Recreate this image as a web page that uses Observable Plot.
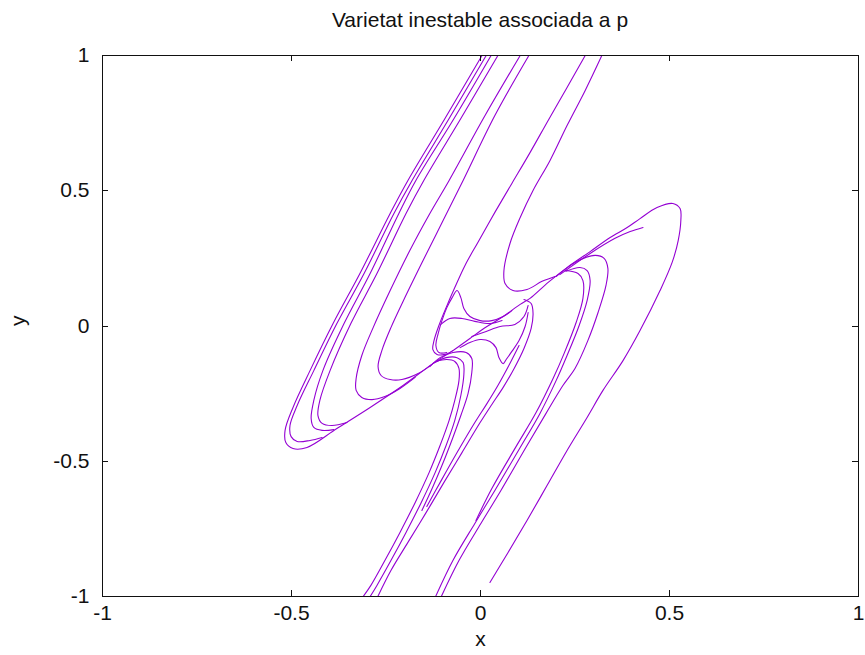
<!DOCTYPE html>
<html>
<head>
<meta charset="utf-8">
<script src="https://cdn.jsdelivr.net/npm/d3@7"></script>
<script src="https://cdn.jsdelivr.net/npm/@observablehq/plot@0.6"></script>
<style>
  html, body { margin: 0; padding: 0; background: #fff; }
  #wrap { position: relative; width: 865px; height: 655px; font-family: "Liberation Sans", Arial, sans-serif; }
  #title { position: absolute; left: 102px; width: 756px; top: 0; height: 40px; box-sizing: border-box;
           padding-top: 8px; text-align: center; font-size: 21px; line-height: 24px; color: #111; }
  #chart { position: absolute; left: 0; top: 40px; }
</style>
</head>
<body>
<div id="wrap">
  <div id="title">Varietat inestable associada a p</div>
  <div id="chart"></div>
</div>
<script>
// Axis ticks and their printed labels
const xTicks = [-1, -0.5, 0, 0.5, 1];
const yTicks = [-1, -0.5, 0, 0.5, 1];
const tickLabels = ["-1", "-0.5", "0", "0.5", "1"];

// Branches of the unstable manifold, as [x, y] samples along each strand
const mainBranch = [[0.004,1],[-0.094,0.767],[-0.192,0.538],[-0.239,0.416],[-0.319,0.194],[-0.390,0.009],[-0.451,-0.165],[-0.496,-0.301],[-0.517,-0.386],[-0.515,-0.431],[-0.496,-0.453],[-0.459,-0.449],[-0.380,-0.379],[-0.292,-0.301],[-0.205,-0.220],[-0.126,-0.139],[-0.073,-0.091],[-0.028,-0.046],[0.017,-0.002],[0.060,0.035],[0.105,0.080],[0.131,0.102],[0.179,0.161],[0.229,0.216],[0.290,0.275],[0.343,0.327],[0.388,0.364],[0.422,0.397],[0.467,0.438],[0.509,0.453],[0.528,0.434],[0.530,0.390],[0.523,0.316],[0.507,0.235],[0.475,0.131],[0.422,-0.017],[0.377,-0.128],[0.324,-0.238],[0.282,-0.338],[0.229,-0.460],[0.176,-0.590],[0.123,-0.719],[0.073,-0.837],[0.025,-0.948]];
const leftFold2 = [[0.015,1],[-0.083,0.767],[-0.181,0.538],[-0.229,0.416],[-0.308,0.194],[-0.380,0.009],[-0.441,-0.165],[-0.485,-0.294],[-0.504,-0.368],[-0.501,-0.409],[-0.485,-0.427],[-0.451,-0.423],[-0.419,-0.412]];
const leftFold3 = [[0.028,1],[-0.070,0.767],[-0.171,0.538],[-0.216,0.416],[-0.292,0.194],[-0.361,0.009],[-0.417,-0.165],[-0.441,-0.275],[-0.448,-0.342],[-0.441,-0.375],[-0.419,-0.386],[-0.388,-0.383]];
const leftFold4 = [[0.046,1],[-0.052,0.767],[-0.150,0.538],[-0.197,0.416],[-0.274,0.194],[-0.343,0.009],[-0.398,-0.165],[-0.425,-0.275],[-0.430,-0.331],[-0.419,-0.360],[-0.393,-0.368],[-0.353,-0.357]];
const leftLoopA = [[0.105,1],[0.012,0.778],[-0.083,0.538],[-0.134,0.416],[-0.187,0.279],[-0.239,0.131],[-0.284,-0.006],[-0.314,-0.109],[-0.329,-0.194],[-0.329,-0.238],[-0.314,-0.264],[-0.287,-0.272],[-0.253,-0.261],[-0.213,-0.231],[-0.173,-0.190]];
const leftLoopB = [[0.128,1],[0.038,0.778],[-0.046,0.538],[-0.099,0.390],[-0.152,0.242],[-0.200,0.105],[-0.237,-0.006],[-0.261,-0.091],[-0.271,-0.150],[-0.263,-0.183],[-0.239,-0.198],[-0.208,-0.198],[-0.165,-0.176],[-0.128,-0.142]];
const eyeUpper = [[0.277,1],[0.229,0.882],[0.179,0.760],[0.131,0.641],[0.083,0.527],[0.038,0.420],[-0.007,0.309],[-0.041,0.224],[-0.068,0.142],[-0.091,0.068],[-0.110,0.002],[-0.123,-0.054],[-0.126,-0.087],[-0.115,-0.105],[-0.094,-0.105],[-0.073,-0.091]];
const topHook = [[0.321,1],[0.277,0.871],[0.229,0.741],[0.184,0.612],[0.139,0.501],[0.105,0.401],[0.078,0.305],[0.062,0.205],[0.065,0.157],[0.086,0.131],[0.123,0.135],[0.163,0.165],[0.197,0.183]];
const lowHook1 = [[-0.134,-0.150],[-0.107,-0.117],[-0.073,-0.098],[-0.038,-0.098],[-0.023,-0.120],[-0.023,-0.172],[-0.033,-0.250],[-0.052,-0.331],[-0.073,-0.412],[-0.102,-0.516],[-0.128,-0.601],[-0.155,-0.682]];
const lowHook2 = [[-0.126,-0.139],[-0.091,-0.117],[-0.062,-0.117],[-0.046,-0.135],[-0.044,-0.179],[-0.052,-0.257],[-0.068,-0.349],[-0.091,-0.442],[-0.120,-0.542],[-0.157,-0.653],[-0.197,-0.763],[-0.237,-0.867],[-0.274,-0.959],[-0.295,-1.007]];
const lowHook3 = [[-0.118,-0.131],[-0.089,-0.124],[-0.068,-0.131],[-0.057,-0.157],[-0.057,-0.202],[-0.068,-0.275],[-0.083,-0.349],[-0.107,-0.442],[-0.136,-0.542],[-0.173,-0.653],[-0.213,-0.763],[-0.253,-0.867],[-0.290,-0.959],[-0.314,-1.007]];
const eyeLower = [[0.115,0.098],[0.134,0.083],[0.139,0.046],[0.134,-0.009],[0.115,-0.083],[0.089,-0.157],[0.060,-0.227],[0.030,-0.290],[-0.001,-0.357],[-0.049,-0.468],[-0.097,-0.579],[-0.144,-0.690],[-0.192,-0.800],[-0.237,-0.904],[-0.274,-1.007]];
const eyeLowerTwin = [[0.102,-0.072],[0.075,-0.146],[0.046,-0.220],[0.017,-0.287],[-0.015,-0.357],[-0.062,-0.468],[-0.107,-0.579],[-0.142,-0.667]];
const upperHorn = [[-0.089,-0.098],[-0.110,-0.098],[-0.118,-0.072],[-0.112,-0.028],[-0.102,0.020],[-0.089,0.068],[-0.075,0.105],[-0.062,0.131],[-0.052,0.105],[-0.044,0.065],[-0.028,0.035],[-0.001,0.020],[0.030,0.020],[0.060,0.035],[0.083,0.057]];
const lowerHorn = [[0.126,0.050],[0.118,-0.002],[0.102,-0.054],[0.083,-0.094],[0.068,-0.124],[0.060,-0.139],[0.049,-0.117],[0.041,-0.080],[0.025,-0.057],[-0.001,-0.050],[-0.028,-0.061],[-0.054,-0.080]];
const innerUpper = [[-0.105,0.006],[-0.081,0.028],[-0.049,0.028],[-0.015,0.017],[0.025,0.009],[0.057,0.020]];
const innerLower = [[-0.023,-0.039],[0.015,-0.020],[0.052,-0.002],[0.091,0.006],[0.115,0.035],[0.126,0.076]];
const rightLoopA = [[0.200,0.183],[0.250,0.235],[0.303,0.261],[0.327,0.250],[0.337,0.213],[0.332,0.150],[0.311,0.050],[0.284,-0.054],[0.250,-0.157],[0.218,-0.220],[0.173,-0.324],[0.120,-0.449],[0.054,-0.608],[0.001,-0.730],[-0.057,-0.867],[-0.105,-1.004]];
const rightLoopB = [[0.226,0.202],[0.263,0.216],[0.282,0.205],[0.290,0.168],[0.282,0.094],[0.261,0.002],[0.229,-0.109],[0.200,-0.202],[0.157,-0.324],[0.105,-0.449],[0.038,-0.608],[-0.015,-0.730],[-0.073,-0.867],[-0.120,-1.004]];
const rightLoopC = [[0.224,0.205],[0.258,0.194],[0.271,0.168],[0.271,0.102],[0.253,0.013],[0.221,-0.102],[0.192,-0.194],[0.147,-0.320],[0.094,-0.446],[0.030,-0.601],[-0.012,-0.719]];
const rightHairpin = [[0.210,0.190],[0.290,0.268],[0.356,0.324],[0.396,0.349],[0.430,0.364]];

const strands = {
  mainBranch, leftFold2, leftFold3, leftFold4, leftLoopA, leftLoopB,
  eyeUpper, topHook, lowHook1, lowHook2, lowHook3, eyeLower, eyeLowerTwin,
  upperHorn, lowerHorn, innerUpper, innerLower,
  rightLoopA, rightLoopB, rightLoopC, rightHairpin
};
const rows = Object.entries(strands).flatMap(([name, pts]) =>
  pts.map(([x, y]) => ({strand: name, x, y})));

const labelOf = new Map(xTicks.map((v, i) => [v, tickLabels[i]]));
const ink = "#111";

// gnuplot-style ticks: short marks pointing inward on all four borders
function inwardTicks(index, scales, values, dims) {
  const {width, height, marginLeft, marginRight, marginTop, marginBottom} = dims;
  const L = 6;
  const left = marginLeft, right = width - marginRight, top = marginTop, bottom = height - marginBottom;
  const g = d3.create("svg:g").attr("stroke", ink).attr("stroke-width", 1);
  for (const v of xTicks.slice(1, -1)) {
    const px = Math.round(scales.x(v)) + 0.5;
    g.append("line").attr("x1", px).attr("x2", px).attr("y1", bottom).attr("y2", bottom - L);
    g.append("line").attr("x1", px).attr("x2", px).attr("y1", top).attr("y2", top + L);
  }
  for (const v of yTicks.slice(1, -1)) {
    const py = Math.round(scales.y(v)) + 0.5;
    g.append("line").attr("y1", py).attr("y2", py).attr("x1", left).attr("x2", left + L);
    g.append("line").attr("y1", py).attr("y2", py).attr("x1", right).attr("x2", right - L);
  }
  return g.node();
}

const chart = Plot.plot({
  width: 865,
  height: 615,
  marginTop: 15,
  marginBottom: 59,
  marginLeft: 102,
  marginRight: 7,
  style: {fontFamily: "'Liberation Sans', Arial, sans-serif", fontSize: "21px", color: ink, background: "#fff"},
  x: {domain: [-1, 1]},
  y: {domain: [-1, 1]},
  marks: [
    Plot.line(rows, {x: "x", y: "y", z: "strand", stroke: "#9400d3", strokeWidth: 1.1, curve: "catmull-rom", clip: true}),
    Plot.frame({stroke: ink, strokeWidth: 1}),
    inwardTicks,
    Plot.axisX(xTicks, {anchor: "bottom", tickSize: 0, tickPadding: 9, tickFormat: d => labelOf.get(d), fontSize: 21, label: null}),
    Plot.axisY(yTicks, {anchor: "left", tickSize: 0, tickPadding: 13, tickFormat: d => labelOf.get(d), fontSize: 21, label: null}),
    Plot.text(["x"], {frameAnchor: "bottom", dy: 49, fontSize: 21, fill: ink}),
    Plot.text(["y"], {frameAnchor: "left", dx: -84, rotate: -90, fontSize: 21, fill: ink})
  ]
});
document.getElementById("chart").appendChild(chart);
</script>
</body>
</html>
